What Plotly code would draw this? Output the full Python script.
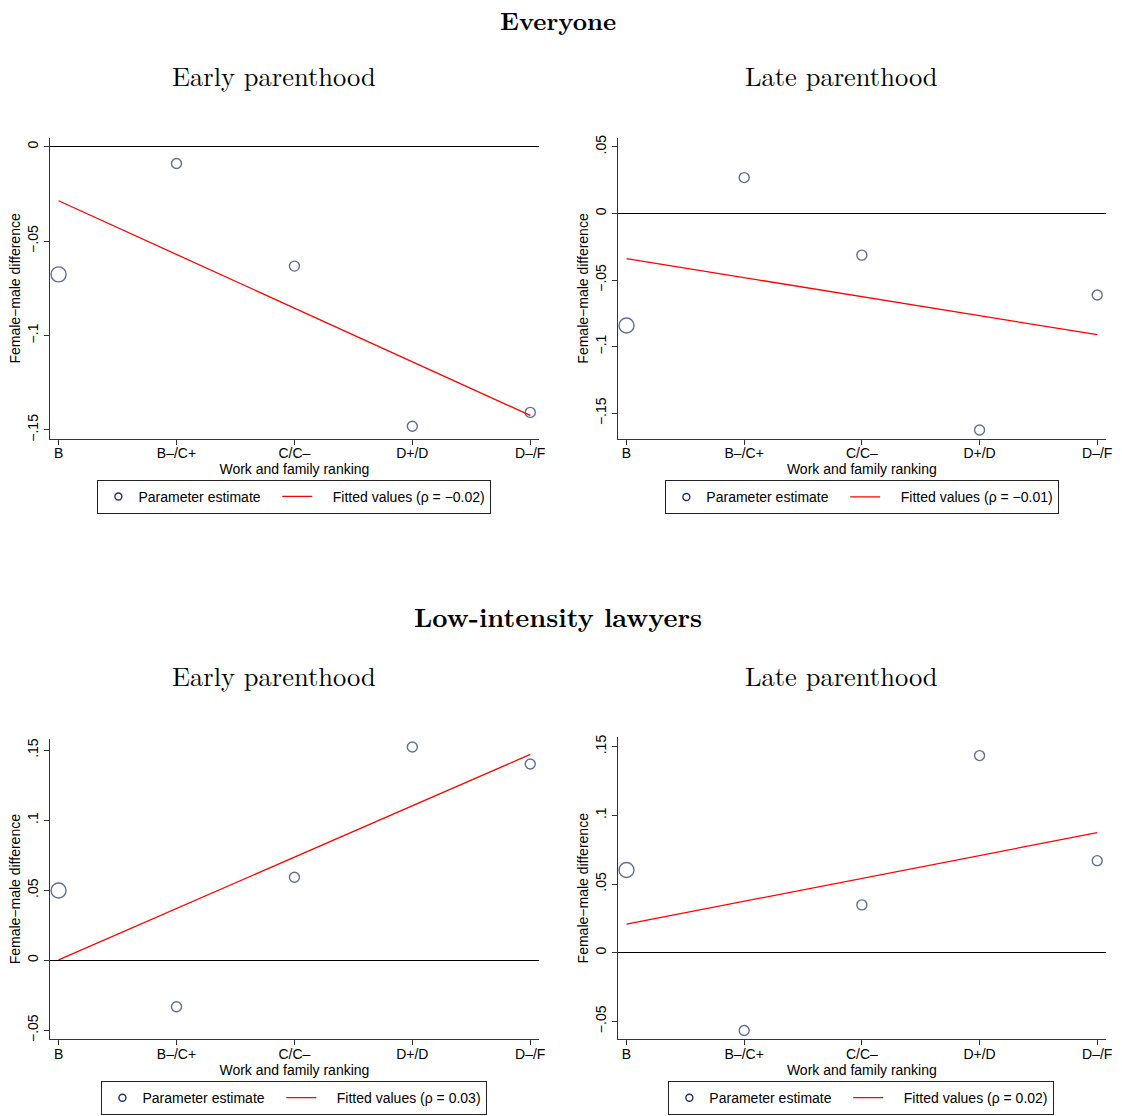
import plotly.graph_objects as go

categories = ["B", "B–/C+", "C/C–", "D+/D", "D–/F"]
cat_pos = [1, 2, 3, 4, 5]

# Parameter estimates per panel
everyone_early = [-0.0676, -0.0089, -0.0632, -0.1480, -0.1407]
everyone_late = [-0.0841, 0.0269, -0.0313, -0.1625, -0.0612]
lowint_early = [0.0498, -0.0332, 0.0593, 0.1523, 0.1402]
lowint_late = [0.0602, -0.0566, 0.0348, 0.1435, 0.0670]

# Fitted line endpoints (at B and D–/F)
fit_x = [1, 5]
fit_everyone_early = [-0.0286, -0.1423]
fit_everyone_late = [-0.0339, -0.0910]
fit_lowint_early = [0.0003, 0.1470]
fit_lowint_late = [0.0208, 0.0874]

rho_labels = ["−0.02", "−0.01", "0.03", "0.02"]
marker_sizes = [15, 10, 10, 10, 10]

# y tick values
yticks_everyone_early = [0, -0.05, -0.1, -0.15]
yticks_everyone_late = [0.05, 0, -0.05, -0.1, -0.15]
yticks_lowint = [-0.05, 0, 0.05, 0.1, 0.15]

def fmt(v):
    if abs(v) < 1e-12:
        return "0"
    s = ("%g" % abs(v)).lstrip("0")
    return ("−" if v < 0 else "") + s

W, H = 1122, 1116
NAVY = "#1f2d6b"
RED = "#ff0000"
AX = "#333333"
SANS = "Liberation Sans, Arial, sans-serif"
SERIF = "Latin Modern Roman, CMU Serif, Liberation Serif, DejaVu Serif, serif"
NB = "\u00a0"

panels = [
    dict(y=everyone_early, fit=fit_everyone_early, ticks=yticks_everyone_early,
         xd=(50, 542), yd=(136, 438), yr=(-0.1546, 0.0045), leg=(296, 496.5)),
    dict(y=everyone_late, fit=fit_everyone_late, ticks=yticks_everyone_late,
         xd=(621, 1112), yd=(136, 438), yr=(-0.169, 0.0564), leg=(867, 497)),
    dict(y=lowint_early, fit=fit_lowint_early, ticks=yticks_lowint,
         xd=(50, 542), yd=(740, 1042), yr=(-0.0565, 0.158), leg=(296, 1101)),
    dict(y=lowint_late, fit=fit_lowint_late, ticks=yticks_lowint,
         xd=(621, 1112), yd=(738, 1042), yr=(-0.0631, 0.157), leg=(866, 1101)),
]

fig = go.Figure()
layout = dict(
    width=W, height=H,
    margin=dict(l=0, r=0, t=0, b=0),
    paper_bgcolor="white", plot_bgcolor="white",
    showlegend=True,
    font=dict(family=SANS, size=14, color="black"),
)

for i, p in enumerate(panels):
    n = i + 1
    xa = "x" if n == 1 else "x%d" % n
    ya = "y" if n == 1 else "y%d" % n
    lg = "legend" if n == 1 else "legend%d" % n
    fig.add_trace(go.Scatter(
        x=cat_pos, y=p["y"], mode="markers", xaxis=xa, yaxis=ya,
        marker=dict(symbol="circle-open", size=marker_sizes, color=NAVY,
                    line=dict(width=1.4, color=NAVY)),
        showlegend=False, hoverinfo="x+y"))
    fig.add_trace(go.Scatter(
        x=[None], y=[None], mode="markers", xaxis=xa, yaxis=ya,
        marker=dict(symbol="circle-open", size=7, color=NAVY,
                    line=dict(width=1.4, color=NAVY)),
        name="Parameter estimate" + NB * 3, legend=lg, showlegend=True))
    fig.add_trace(go.Scatter(
        x=fit_x, y=p["fit"], mode="lines", xaxis=xa, yaxis=ya,
        line=dict(color=RED, width=1.3),
        name=NB * 4 + "Fitted values (ρ = %s)" % rho_labels[i], legend=lg, showlegend=True))

    xkey = "xaxis" if n == 1 else "xaxis%d" % n
    ykey = "yaxis" if n == 1 else "yaxis%d" % n
    layout[xkey] = dict(
        domain=[p["xd"][0] / W, p["xd"][1] / W], anchor=ya,
        range=[0.925, 5.075], tickvals=cat_pos, ticktext=categories,
        showgrid=False, zeroline=False, showline=True, linecolor=AX, linewidth=1,
        ticks="outside", ticklen=5, tickcolor=AX, tickfont=dict(size=14),
        ticklabelstandoff=-3,
        title=dict(text="Work and family ranking", font=dict(size=14), standoff=0),
    )
    layout[ykey] = dict(
        domain=[1 - p["yd"][1] / H, 1 - p["yd"][0] / H], anchor=xa,
        range=list(p["yr"]), tickvals=p["ticks"], ticktext=[fmt(v) for v in p["ticks"]],
        tickangle=-90, showgrid=False,
        zeroline=True, zerolinecolor="black", zerolinewidth=1,
        showline=True, linecolor=AX, linewidth=1,
        ticks="outside", ticklen=5, tickcolor=AX, tickfont=dict(size=14),
        title=dict(text="Female−male difference", font=dict(size=14), standoff=1),
    )
    layout[lg] = dict(
        x=p["leg"][0] / W, y=1 - p["leg"][1] / H, xanchor="center", yanchor="middle",
        orientation="h", bordercolor="#222222", borderwidth=1, bgcolor="white",
        font=dict(size=14, family=SANS), itemwidth=30,
    )

fig.update_layout(**layout)

titles = [
    ("<b>Everyone</b>", 561, 16.5, 25),
    ("Early parenthood", 275, 72, 26.5),
    ("Late parenthood", 846, 72, 26.5),
    ("<b>Low-intensity lawyers</b>", 561, 616, 26.5),
    ("Early parenthood", 275, 676, 26.5),
    ("Late parenthood", 846, 676, 26.5),
]
for text, x, y, s in titles:
    fig.add_annotation(text=text, x=x / W, y=1 - y / H, xref="paper", yref="paper",
                       xanchor="center", yanchor="middle", showarrow=False,
                       font=dict(family=SERIF, size=s, color="black"))

fig.write_html("out.html", config={"displayModeBar": False},
               post_script="document.body.style.margin='0px';")
